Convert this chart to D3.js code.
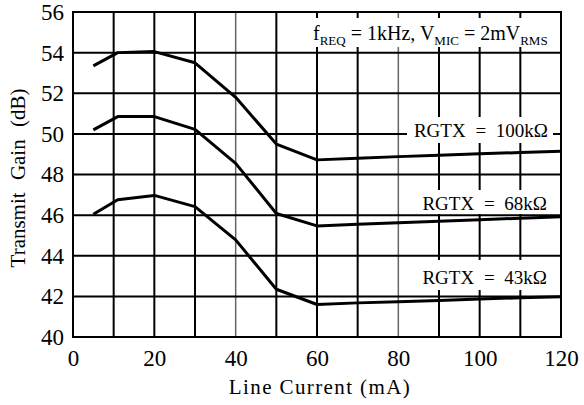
<!DOCTYPE html>
<html><head><meta charset="utf-8">
<script src="https://cdn.jsdelivr.net/npm/d3@7"></script>
</head><body style="margin:0;background:#fff"><div id="chart"></div>
<script>
const current = [5, 11, 20, 30, 40, 50, 60, 70, 80, 90, 100, 110, 120];
const gain100k = [53.35, 54.0, 54.05, 53.5, 51.8, 49.5, 48.72, 48.8, 48.88, 48.95, 49.02, 49.08, 49.15];
const gain68k  = [50.2, 50.85, 50.85, 50.22, 48.55, 46.08, 45.47, 45.55, 45.62, 45.7, 45.77, 45.85, 45.92];
const gain43k  = [46.04, 46.76, 46.97, 46.42, 44.78, 42.35, 41.6, 41.68, 41.74, 41.8, 41.87, 41.93, 41.98];
const xTicks = [0, 20, 40, 60, 80, 100, 120];
const yTicks = [40, 42, 44, 46, 48, 50, 52, 54, 56];
const seriesLabels = ["RGTX = 100k\u03A9", "RGTX = 68k\u03A9", "RGTX = 43k\u03A9"];

const FONT = "'Liberation Serif'";
const W = 584, H = 405;
const m = {l: 73, r: 23, t: 12, b: 68};
const svg = d3.select("#chart").append("svg").attr("width", W).attr("height", H).style("display", "block");
const x = d3.scaleLinear().domain([0, 120]).range([m.l, W - m.r]);
const y = d3.scaleLinear().domain([40, 56]).range([H - m.b, m.t]);

// grid
const g = svg.append("g");
d3.range(10, 120, 10).forEach(v => {
  const light = (v === 40 || v === 80);
  g.append("line").attr("x1", x(v)).attr("x2", x(v)).attr("y1", y(40)).attr("y2", y(56))
    .attr("stroke", light ? "#666" : "#000").attr("stroke-width", light ? 1.5 : 2);
});
d3.range(42, 56, 2).forEach(v => {
  g.append("line").attr("x1", x(0)).attr("x2", x(120)).attr("y1", y(v)).attr("y2", y(v))
    .attr("stroke", "#000").attr("stroke-width", 2);
});

// white label boxes
const boxes = [
  [303, 18, 258, 29],
  [407, 117, 146, 26],
  [416, 190, 140, 24],
  [416, 260, 140, 30]
];
boxes.forEach(b => svg.append("rect").attr("x", b[0]).attr("y", b[1]).attr("width", b[2]).attr("height", b[3]).attr("fill", "#fff"));

// curves
const line = d3.line().x((d, i) => x(current[i])).y(d => y(d));
[gain100k, gain68k, gain43k].forEach(s => {
  svg.append("path").attr("d", line(s)).attr("fill", "none").attr("stroke", "#000")
    .attr("stroke-width", 3).attr("stroke-linejoin", "round");
});

// border
svg.append("rect").attr("x", x(0)).attr("y", y(56)).attr("width", x(120) - x(0)).attr("height", y(40) - y(56))
  .attr("fill", "none").attr("stroke", "#000").attr("stroke-width", 2);

// axes labels
const yAxis = d3.axisLeft(y).tickValues(yTicks).tickSize(0).tickPadding(9);
const ya = svg.append("g").attr("transform", `translate(${x(0)},0)`).call(yAxis);
ya.select(".domain").remove();
ya.selectAll("text").style("font-family", FONT).style("font-size", "23px").attr("fill", "#000");

const xAxis = d3.axisBottom(x).tickValues(xTicks).tickSize(0).tickPadding(13);
const xa = svg.append("g").attr("transform", `translate(0,${y(40)})`).call(xAxis);
xa.select(".domain").remove();
xa.selectAll("text").style("font-family", FONT).style("font-size", "23px").attr("fill", "#000");

svg.append("text").attr("x", 320).attr("y", 394).attr("text-anchor", "middle")
  .style("font-family", FONT).style("font-size", "21px").style("letter-spacing", "1.4px").text("Line Current (mA)");
svg.append("text").attr("transform", "translate(25,178) rotate(-90)").attr("text-anchor", "middle")
  .style("font-family", FONT).style("font-size", "21px").style("word-spacing", "7px").text("Transmit Gain (dB)");

// annotation
const ann = svg.append("text").attr("x", 313).attr("y", 40).style("font-family", FONT).style("font-size", "20px");
ann.append("tspan").text("f");
ann.append("tspan").attr("dy", 5).style("font-size", "13px").text("REQ");
ann.append("tspan").attr("dy", -5).text(" = 1kHz, V");
ann.append("tspan").attr("dy", 5).style("font-size", "13px").text("MIC");
ann.append("tspan").attr("dy", -5).text(" = 2mV");
ann.append("tspan").attr("dy", 5).style("font-size", "13px").text("RMS");

// series labels
const labelPos = [[548, 137], [547, 210], [547, 284]];
seriesLabels.forEach((t, i) => {
  svg.append("text").attr("x", labelPos[i][0]).attr("y", labelPos[i][1]).attr("text-anchor", "end")
    .style("font-family", FONT).style("font-size", "19px").style("word-spacing", "5px").text(t);
});
</script></body></html>
